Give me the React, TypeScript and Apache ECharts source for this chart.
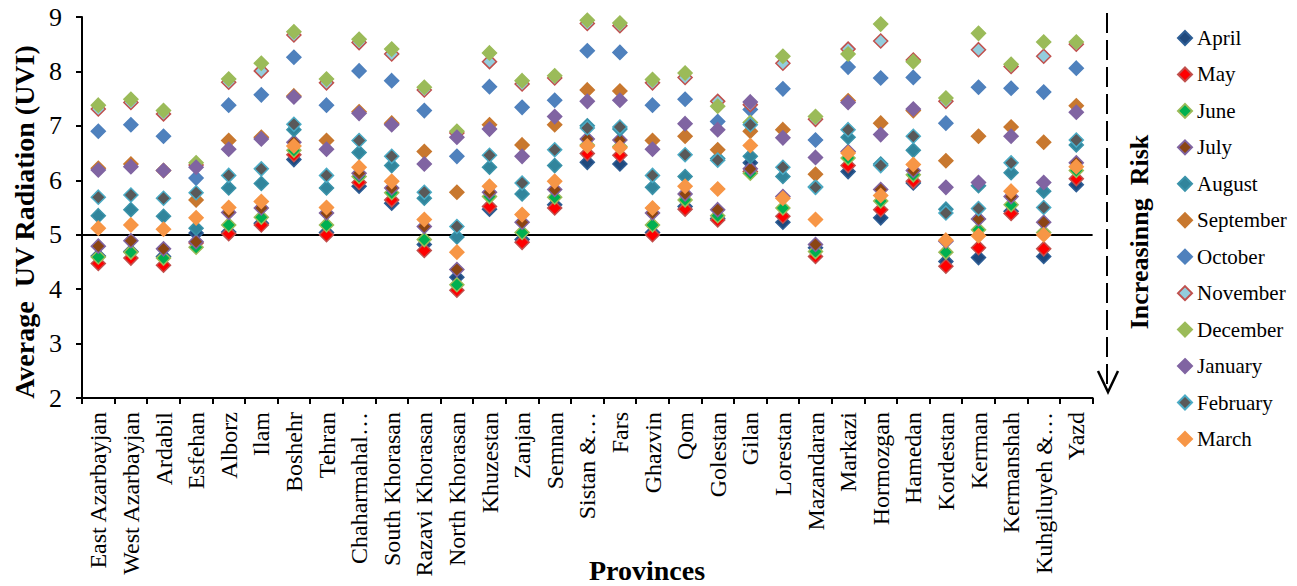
import React, { useEffect, useRef } from "react";
import * as echarts from "echarts";

const provinces = [
  "East Azarbayjan", "West Azarbayjan", "Ardabil", "Esfehan", "Alborz", "Ilam", "Boshehr",
  "Tehran", "Chaharmahal…", "South Khorasan", "Razavi Khorasan", "North Khorasan", "Khuzestan",
  "Zanjan", "Semnan", "Sistan &…", "Fars", "Ghazvin", "Qom", "Golestan", "Gilan", "Lorestan",
  "Mazandaran", "Markazi", "Hormozgan", "Hamedan", "Kordestan", "Kerman", "Kermanshah",
  "Kuhgiluyeh &…", "Yazd",
];

const april = [4.61, 4.69, 4.6, 5.03, 5.05, 5.21, 6.38, 5.04, 5.89, 5.58, 4.82, 4.22, 5.47, 4.91, 5.55, 6.33, 6.3, 5.04, 5.52, 5.3, 6.32, 5.23, 4.76, 6.16, 5.31, 5.95, 4.51, 4.58, 5.43, 4.6, 5.92];
const may = [4.47, 4.57, 4.44, 4.85, 5.02, 5.18, 6.47, 5.0, 5.96, 5.64, 4.71, 3.98, 5.52, 4.86, 5.49, 6.49, 6.46, 5.0, 5.47, 5.27, 6.16, 5.34, 4.6, 6.27, 5.46, 5.98, 4.42, 4.76, 5.39, 4.74, 6.03];
const june = [4.59, 4.68, 4.57, 4.77, 5.18, 5.32, 6.55, 5.18, 6.07, 5.77, 4.91, 4.08, 5.7, 5.04, 5.69, 6.65, 6.62, 5.18, 5.64, 5.35, 6.13, 5.49, 4.69, 6.41, 5.62, 6.1, 4.68, 5.09, 5.55, 5.04, 6.18];
const july = [4.79, 4.89, 4.74, 4.87, 5.41, 5.49, 6.7, 5.4, 6.13, 5.86, 5.15, 4.36, 5.78, 5.23, 5.83, 6.76, 6.74, 5.4, 5.75, 5.46, 6.21, 5.7, 4.82, 6.53, 5.83, 6.18, 4.88, 5.29, 5.7, 5.23, 6.32];
const august = [5.35, 5.46, 5.34, 5.12, 5.86, 5.94, 6.93, 5.86, 6.51, 6.27, 5.67, 4.96, 6.24, 5.75, 6.27, 7.0, 6.94, 5.87, 6.07, 6.4, 6.44, 6.07, 5.88, 6.79, 6.3, 6.55, 5.47, 5.9, 6.14, 5.8, 6.65];
const september = [6.22, 6.3, 6.18, 5.64, 6.73, 6.79, 7.55, 6.73, 7.26, 7.05, 6.53, 5.78, 7.02, 6.65, 7.02, 7.66, 7.64, 6.73, 6.81, 6.56, 6.9, 6.93, 6.11, 7.46, 7.05, 7.28, 6.36, 6.81, 6.98, 6.7, 7.37];
const october = [6.9, 7.02, 6.81, 6.04, 7.38, 7.57, 8.26, 7.38, 8.01, 7.83, 7.28, 6.44, 7.72, 7.34, 7.47, 8.38, 8.35, 7.38, 7.49, 7.08, 7.3, 7.68, 6.74, 8.08, 7.88, 7.89, 7.05, 7.71, 7.69, 7.62, 8.06];
const november = [7.31, 7.43, 7.22, 6.28, 7.8, 8.01, 8.67, 7.79, 8.53, 8.32, 7.66, 6.87, 8.18, 7.77, 7.88, 8.88, 8.84, 7.79, 7.89, 7.45, 7.39, 8.15, 7.12, 8.41, 8.56, 8.21, 7.45, 8.4, 8.09, 8.28, 8.5];
const december = [7.38, 7.49, 7.28, 6.32, 7.86, 8.15, 8.73, 7.86, 8.59, 8.41, 7.71, 6.9, 8.34, 7.83, 7.92, 8.94, 8.89, 7.85, 7.97, 7.36, 7.06, 8.28, 7.17, 8.32, 8.87, 8.18, 7.51, 8.7, 8.13, 8.54, 8.54];
const january = [6.19, 6.25, 6.18, 6.24, 6.57, 6.76, 7.53, 6.57, 7.23, 7.02, 6.3, 6.79, 6.94, 6.44, 7.17, 7.45, 7.47, 6.57, 7.04, 6.93, 7.44, 6.78, 6.42, 7.43, 6.84, 7.31, 5.87, 5.96, 6.81, 5.96, 7.25];
const february = [5.69, 5.73, 5.67, 5.77, 6.09, 6.21, 7.03, 6.09, 6.73, 6.44, 5.78, 5.15, 6.46, 5.95, 6.56, 6.96, 6.98, 6.09, 6.47, 6.37, 7.02, 6.24, 5.87, 6.93, 6.27, 6.81, 5.4, 5.48, 6.32, 5.5, 6.74];
const march = [5.12, 5.18, 5.1, 5.31, 5.5, 5.61, 6.63, 5.5, 6.24, 5.98, 5.28, 4.68, 5.89, 5.37, 5.98, 6.63, 6.6, 5.49, 5.89, 5.84, 6.64, 5.67, 5.28, 6.5, 5.72, 6.29, 4.9, 4.98, 5.8, 5.0, 6.25];

const months = ["April", "May", "June", "July", "August", "September", "October", "November", "December", "January", "February", "March"];
const monthData = [april, may, june, july, august, september, october, november, december, january, february, march];
const fills = ["#1F497D", "#FF0000", "#00B050", "#8B4513", "#31859C", "#C8782F", "#4F81BD", "#93CDDD", "#9BBB59", "#8064A2", "#595959", "#F79646"];
const borders = ["#2E5E95", "#C0504D", "#9BBB59", "#8064A2", "#3A93AA", "#C8782F", "#4F81BD", "#C0504D", "#9BBB59", "#8064A2", "#4BACC6", "#F79646"];

const FONT = "'Liberation Serif', 'Times New Roman', serif";

export default function App() {
  const ref = useRef<HTMLDivElement>(null);
  useEffect(() => {
    if (!ref.current) return;
    const chart = echarts.init(ref.current, null, { renderer: "svg" });
    const series: any[] = months.map((m, i) => ({
      name: m,
      type: "scatter",
      symbol: "diamond",
      symbolSize: 14,
      data: monthData[i],
      itemStyle: { color: fills[i], borderColor: borders[i], borderWidth: 1.5, opacity: 1 },
      z: 2 + i,
    }));
    series[0].markLine = {
      silent: true,
      symbol: "none",
      label: { show: false },
      lineStyle: { color: "#000", width: 2, type: "solid" },
      data: [{ yAxis: 5 }],
      z: 1,
    };
    chart.setOption({
      animation: false,
      grid: { left: 82, top: 17, right: 204.4, bottom: 188, containLabel: false },
      xAxis: {
        type: "category",
        data: provinces,
        boundaryGap: true,
        axisLine: { lineStyle: { color: "#000", width: 2 } },
        axisTick: { show: true, length: 6, inside: false, interval: 0, lineStyle: { color: "#000", width: 2 } },
        axisLabel: { interval: 0, rotate: 90, fontSize: 24, fontFamily: FONT, color: "#000", margin: 14 },
        splitLine: { show: false },
      },
      yAxis: {
        type: "value",
        min: 2,
        max: 9,
        interval: 1,
        axisLine: { show: true, lineStyle: { color: "#000", width: 2 } },
        axisTick: { show: true, length: 6, inside: false, lineStyle: { color: "#000", width: 2 } },
        axisLabel: { fontSize: 26, fontFamily: FONT, color: "#000", margin: 20 },
        splitLine: { show: false },
      },
      legend: {
        data: months,
        orient: "vertical",
        left: 1172,
        top: 22,
        itemWidth: 14,
        itemHeight: 14,
        itemGap: 14.45,
        icon: "diamond",
        textStyle: { fontSize: 21, lineHeight: 22, fontFamily: FONT, color: "#000" },
      },
      graphic: [
        {
          type: "text",
          x: 24,
          y: 222,
          rotation: Math.PI / 2,
          style: {
            text: "Average  UV Radiation (UVI)",
            font: `bold 28px ${FONT}`,
            fill: "#000",
            textAlign: "center",
            textVerticalAlign: "middle",
          },
        },
        {
          type: "text",
          x: 647,
          y: 570,
          style: {
            text: "Provinces",
            font: `bold 28px ${FONT}`,
            fill: "#000",
            textAlign: "center",
            textVerticalAlign: "middle",
          },
        },
        {
          type: "text",
          x: 1139,
          y: 232,
          rotation: Math.PI / 2,
          style: {
            text: "Increasinng  Risk",
            font: `bold 26px ${FONT}`,
            fill: "#000",
            textAlign: "center",
            textVerticalAlign: "middle",
          },
        },
        {
          type: "line",
          shape: { x1: 1107, y1: 13, x2: 1107, y2: 390 },
          style: { stroke: "#000", lineWidth: 2, lineDash: [20, 7] },
        },
        {
          type: "polyline",
          shape: { points: [[1098, 371], [1108, 392], [1118, 371]] },
          style: { stroke: "#000", lineWidth: 2.5, fill: "none" },
        },
      ],
      series,
    });
    return () => chart.dispose();
  }, []);
  return (
    <div
      ref={ref}
      style={{ position: "fixed", left: 0, top: 0, width: 1297, height: 586, background: "#fff" }}
    />
  );
}
